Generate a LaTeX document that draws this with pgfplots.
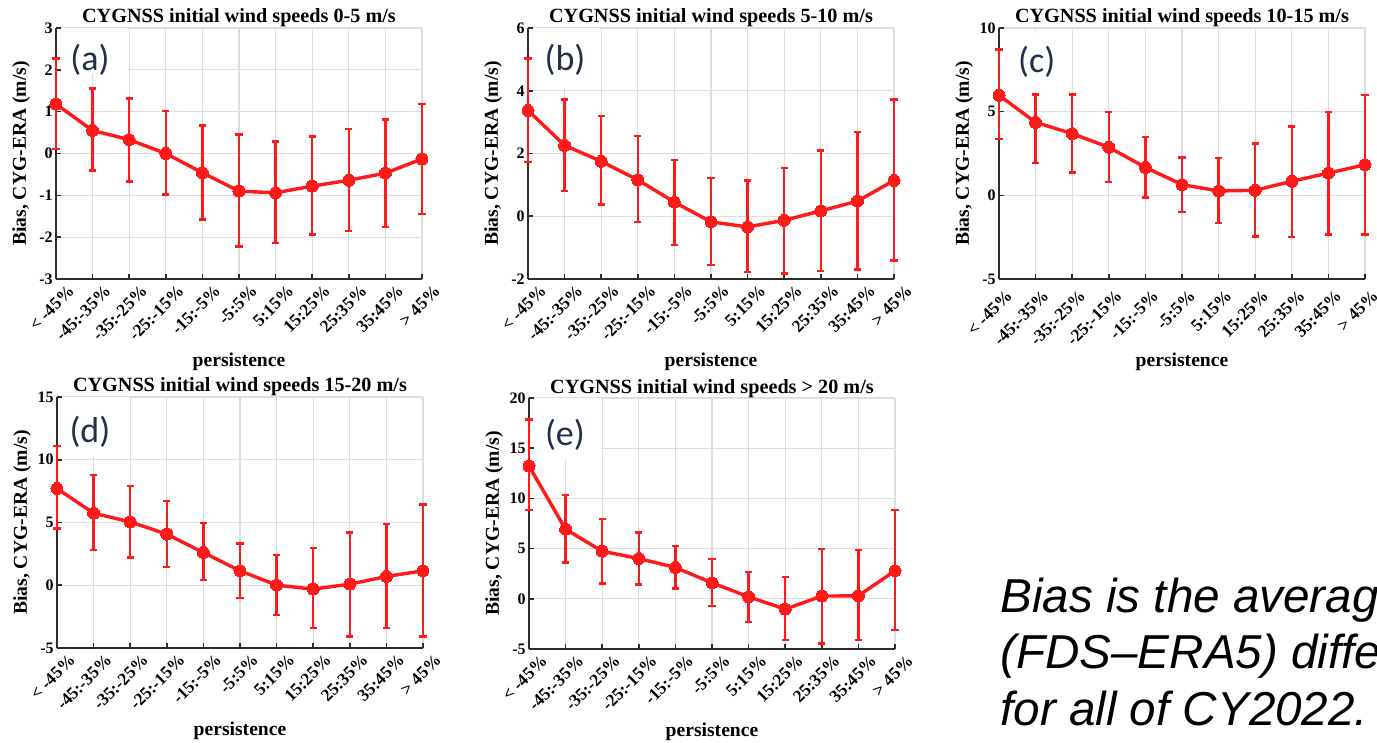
\documentclass[border=0pt]{standalone}
\usepackage{fontspec}
\setmainfont{Liberation Serif}
\newfontfamily\carlito{Carlito}
\newfontfamily\sansarial{Liberation Sans}
\usepackage{pgfplots}
\pgfplotsset{compat=1.18}
\definecolor{cred}{RGB}{255,25,25}
\definecolor{lblblue}{RGB}{34,46,74}
\definecolor{axcol}{RGB}{45,45,45}
\tikzset{panellbl/.style={font=\carlito\fontsize{18}{20}\selectfont, text=lblblue, inner sep=0pt}}
\pgfplotsset{
  every axis title/.style={at={(0.5,1)}, anchor=base, yshift=2.5pt, font=\bfseries\fontsize{10.1}{11}\selectfont},
  panel/.style={
    scale only axis, width=183pt, height=125.5pt,
    anchor=north west,
    clip=false,
    axis x line*=bottom, axis y line*=left,
    axis line style={line width=1.1pt, color=axcol},
    tick align=inside, major tick length=2.5pt,
    tick style={line width=0.8pt, color=axcol},
    xmin=0, xmax=10, xtick={0,...,10},
    xticklabels={{< -45\%},{-45:-35\%},{-35:-25\%},{-25:-15\%},{-15:-5\%},{-5:5\%},{5:15\%},{15:25\%},{25:35\%},{35:45\%},{> 45\%}},
    grid=major, grid style={line width=0.6pt, color=black!13},
    x tick label style={font=\bfseries\fontsize{8.7}{10}\selectfont, rotate=45, anchor=north east, inner sep=1pt, xshift=3.2pt, yshift=-4.5pt},
    y tick label style={font=\bfseries\fontsize{8}{9}\selectfont, inner sep=1.5pt},
    /pgf/number format/assume math mode=true,
    xlabel={persistence}, ylabel={Bias, CYG-ERA (m/s)},
    label style={font=\bfseries\fontsize{9.8}{11}\selectfont},
    xlabel style={at={(axis description cs:0.5,-0.331)}, anchor=center},
    ylabel style={at={(axis description cs:-0.095,0.5)}, anchor=center},
  },
  dataline/.style={
    color=cred, line width=1.7pt, mark=*, mark size=3pt,
    mark options={solid, fill=cred, line width=0pt},
    error bars/y dir=both, error bars/y explicit,
    error bars/error bar style={line width=1.2pt, color=cred},
    error bars/error mark options={rotate=90, mark size=1.8pt, line width=1.2pt, color=cred},
  },
}
\begin{document}
\begin{tikzpicture}
% (a)
\begin{axis}[panel, at={(28pt,-14pt)}, title={CYGNSS initial wind speeds 0-5 m/s},
  ymin=-3, ymax=3, ytick={-3,...,3}]
\fill[white] (axis cs:0.15,1.9) rectangle (axis cs:1.97,3);
\addplot[dataline] table[x=x, y=y, y error plus=ep, y error minus=em] {
x y ep em
0 1.18 1.09 1.07
1 0.55 1.00 0.96
2 0.33 0.98 1.00
3 0.00 1.01 0.98
4 -0.46 1.13 1.12
5 -0.90 1.35 1.32
6 -0.94 1.23 1.20
7 -0.78 1.19 1.16
8 -0.64 1.23 1.22
9 -0.47 1.28 1.29
10 -0.13 1.32 1.32
};
\node[panellbl] at (axis description cs:0.093,0.872) {(a)};
\end{axis}
% (b)
\begin{axis}[panel, at={(264pt,-14pt)}, title={CYGNSS initial wind speeds 5-10 m/s},
  ymin=-2, ymax=6, ytick={-2,0,2,4,6}]
\fill[white] (axis cs:0.15,4.1) rectangle (axis cs:1.97,6);
\addplot[dataline] table[x=x, y=y, y error plus=ep, y error minus=em] {
x y ep em
0 3.37 1.66 1.65
1 2.26 1.46 1.46
2 1.75 1.44 1.38
3 1.16 1.39 1.35
4 0.45 1.34 1.37
5 -0.18 1.40 1.38
6 -0.34 1.48 1.43
7 -0.13 1.67 1.70
8 0.17 1.93 1.92
9 0.48 2.21 2.18
10 1.14 2.58 2.55
};
\node[panellbl] at (axis description cs:0.101,0.872) {(b)};
\end{axis}
% (c)
\begin{axis}[panel, at={(499.5pt,-14pt)}, title={CYGNSS initial wind speeds 10-15 m/s},
  ymin=-5, ymax=10, ytick={-5,0,5,10}, x tick label style={xshift=-3.5pt}]
\fill[white] (axis cs:0.15,6.0) rectangle (axis cs:1.97,9.7);
\addplot[dataline] table[x=x, y=y, y error plus=ep, y error minus=em] {
x y ep em
0 5.98 2.73 2.61
1 4.36 1.66 2.43
2 3.69 2.33 2.32
3 2.87 2.11 2.09
4 1.67 1.80 1.79
5 0.64 1.63 1.64
6 0.26 1.97 1.91
7 0.30 2.79 2.75
8 0.84 3.28 3.33
9 1.33 3.65 3.68
10 1.83 4.15 4.18
};
\node[panellbl] at (axis description cs:0.103,0.865) {(c)};
\end{axis}
% (d)
\begin{axis}[panel, at={(28.5pt,-198.5pt)}, title={CYGNSS initial wind speeds 15-20 m/s},
  ymin=-5, ymax=15, ytick={-5,0,5,10,15}]
\fill[white] (axis cs:0.15,10.2) rectangle (axis cs:1.97,15);
\addplot[dataline] table[x=x, y=y, y error plus=ep, y error minus=em] {
x y ep em
0 7.71 3.39 3.19
1 5.74 3.05 2.94
2 5.05 2.87 2.84
3 4.07 2.65 2.60
4 2.61 2.34 2.20
5 1.15 2.18 2.17
6 0.01 2.42 2.36
7 -0.31 3.27 3.10
8 0.09 4.11 4.16
9 0.70 4.16 4.11
10 1.15 5.30 5.22
};
\node[panellbl] at (axis description cs:0.09,0.86) {(d)};
\end{axis}
% (e)
\begin{axis}[panel, at={(264.5pt,-199pt)}, title={CYGNSS initial wind speeds > 20 m/s},
  ymin=-5, ymax=20, ytick={-5,0,5,10,15,20}]
\fill[white] (axis cs:0.15,13.8) rectangle (axis cs:1.97,20);
\addplot[dataline] table[x=x, y=y, y error plus=ep, y error minus=em] {
x y ep em
0 13.23 4.64 4.41
1 6.93 3.38 3.32
2 4.74 3.18 3.21
3 4.01 2.59 2.58
4 3.12 2.15 2.09
5 1.59 2.36 2.29
6 0.20 2.49 2.49
7 -1.03 3.22 3.08
8 0.27 4.67 4.71
9 0.30 4.54 4.41
10 2.79 6.03 5.91
};
\node[panellbl] at (axis description cs:0.098,0.853) {(e)};
\end{axis}
% note text, clipped at the right edge
\begin{scope}
\clip (0,0) rectangle (688.5pt,-371.5pt);
\node[anchor=base west, inner sep=0pt, font=\sansarial\itshape\fontsize{23.8}{28}\selectfont] at (500pt,-306pt) {Bias is the average};
\node[anchor=base west, inner sep=0pt, font=\sansarial\itshape\fontsize{23.8}{28}\selectfont] at (500pt,-334pt) {(FDS–ERA5) difference};
\node[anchor=base west, inner sep=0pt, font=\sansarial\itshape\fontsize{23.8}{28}\selectfont] at (500pt,-362.5pt) {for all of CY2022.};
\end{scope}
\pgfresetboundingbox
\useasboundingbox (0,0) rectangle (688.5pt,-371.5pt);
\end{tikzpicture}
\end{document}
